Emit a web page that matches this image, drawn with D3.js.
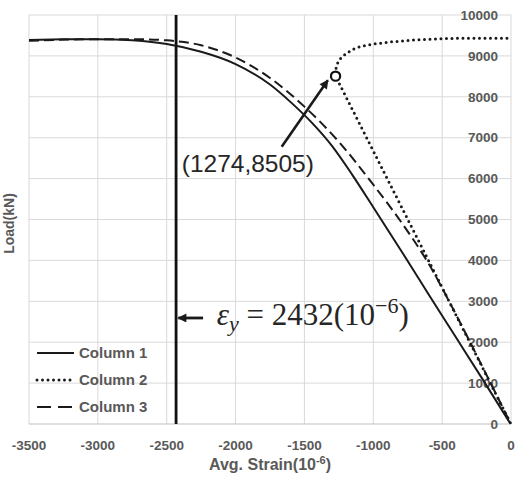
<!DOCTYPE html>
<html>
<head>
<meta charset="utf-8">
<script src="https://cdn.jsdelivr.net/npm/d3@7"></script>
<style>
  body { margin: 0; background: #fff; }
  text { font-family: "Liberation Sans", Arial, sans-serif; }
</style>
</head>
<body>
<script>
// tick values
var strainTicks = [-3500, -3000, -2500, -2000, -1500, -1000, -500, 0];
var loadTicks = [0, 1000, 2000, 3000, 4000, 5000, 6000, 7000, 8000, 9000, 10000];

// Column 1 (solid)
var col1Strain = [-3500, -3250, -3000, -2750, -2500, -2250, -2000, -1750, -1600, -1450, -1300, -1150, -1000, -800, -600, -400, -200, -10];
var col1Load   = [9390, 9405, 9410, 9380, 9290, 9100, 8800, 8300, 7870, 7380, 6800, 6080, 5300, 4250, 3180, 2120, 1060, 40];

// Column 2 (dotted) - strain gauge reverses after (1274,8505)
var col2Strain = [-5, -1274, -1270, -1255, -1230, -1193, -1150, -1097, -1000, -857, -700, -612, -500, -370, -200, 0];
var col2Load   = [30, 8505, 8700, 8860, 8970, 9063, 9160, 9225, 9290, 9347, 9390, 9406, 9420, 9430, 9432, 9435];

// Column 3 (dashed)
var col3Strain = [-3500, -3000, -2750, -2500, -2250, -2000, -1750, -1500, -1250, -1000, -800, -600, -400, -200, -10];
var col3Load   = [9370, 9410, 9410, 9380, 9260, 8960, 8460, 7760, 6900, 5850, 4950, 3930, 2680, 1350, 60];

var seriesNames = ["Column 1", "Column 2", "Column 3"];

var yieldStrain = -2432;
var markStrain = -1274, markLoad = 8505;

var margin = { top: 15, right: 6, bottom: 62, left: 29 },
    width = 517 - margin.left - margin.right,
    height = 486 - margin.top - margin.bottom;

var svg = d3.select("body")
    .append("svg")
    .attr("width", 517)
    .attr("height", 486);

var g = svg.append("g").attr("transform", "translate(" + margin.left + "," + margin.top + ")");

var x = d3.scaleLinear().domain([-3500, 0]).range([0, width]),
    y = d3.scaleLinear().domain([0, 10000]).range([height, 0]);

// grid
g.selectAll(".vgrid")
    .data(strainTicks)
    .enter().append("line")
    .attr("x1", function (d) { return x(d); })
    .attr("x2", function (d) { return x(d); })
    .attr("y1", 0).attr("y2", height)
    .attr("stroke", "#d9d9d9").attr("stroke-width", 1);

g.selectAll(".hgrid")
    .data(loadTicks)
    .enter().append("line")
    .attr("x1", 0).attr("x2", width)
    .attr("y1", function (d) { return y(d); })
    .attr("y2", function (d) { return y(d); })
    .attr("stroke", function (d) { return d === 0 ? "#bfbfbf" : "#d9d9d9"; })
    .attr("stroke-width", 1);

// tick labels
g.selectAll(".xlab")
    .data(strainTicks)
    .enter().append("text")
    .attr("x", function (d) { return x(d); })
    .attr("y", height + 21)
    .attr("dy", "0.35em")
    .attr("text-anchor", "middle")
    .attr("font-size", "13.5px")
    .attr("font-weight", "bold")
    .attr("fill", "#595959")
    .text(function (d) { return d; });

g.selectAll(".ylab")
    .data(loadTicks)
    .enter().append("text")
    .attr("x", width - 13)
    .attr("y", function (d) { return y(d); })
    .attr("dy", "0.35em")
    .attr("text-anchor", "end")
    .attr("font-size", "13.5px")
    .attr("font-weight", "bold")
    .attr("fill", "#595959")
    .text(function (d) { return d; });

// axis titles
var xt = svg.append("text")
    .attr("x", margin.left + width / 2)
    .attr("y", 470)
    .attr("text-anchor", "middle")
    .attr("font-size", "16px")
    .attr("font-weight", "bold")
    .attr("fill", "#595959");
xt.append("tspan").text("Avg. Strain(10");
xt.append("tspan").attr("font-size", "11px").attr("dy", "-6").text("-6");
xt.append("tspan").attr("dy", "6").text(")");

svg.append("text")
    .attr("transform", "translate(14," + (margin.top + height / 2 + 4) + ") rotate(-90)")
    .attr("text-anchor", "middle")
    .attr("font-size", "14px")
    .attr("font-weight", "bold")
    .attr("fill", "#595959")
    .text("Load(kN)");

// yield strain line
g.append("line")
    .attr("x1", x(yieldStrain)).attr("x2", x(yieldStrain))
    .attr("y1", 0).attr("y2", height)
    .attr("stroke", "#111").attr("stroke-width", 2.8);

// series
var line = d3.line()
    .x(function (d) { return x(d[0]); })
    .y(function (d) { return y(d[1]); });

var styles = [
    { dash: null, width: 2, cap: "butt" },
    { dash: "0,5.5", width: 3, cap: "round" },
    { dash: "10,5", width: 2, cap: "butt" }
];

var series = [d3.zip(col1Strain, col1Load), d3.zip(col2Strain, col2Load), d3.zip(col3Strain, col3Load)];

series.forEach(function (s, i) {
    g.append("path")
        .datum(s)
        .attr("fill", "none")
        .attr("stroke", "#1a1a1a")
        .attr("stroke-width", styles[i].width)
        .attr("stroke-linecap", styles[i].cap)
        .attr("stroke-dasharray", styles[i].dash)
        .attr("stroke-linejoin", "round")
        .attr("d", line.curve(i === 1 ? d3.curveLinear : d3.curveMonotoneX));
});

// arrowheads
var defs = svg.append("defs");
defs.append("marker")
    .attr("id", "arr")
    .attr("markerUnits", "userSpaceOnUse")
    .attr("viewBox", "0 0 10 10")
    .attr("refX", 9).attr("refY", 5)
    .attr("markerWidth", 11).attr("markerHeight", 9)
    .attr("orient", "auto")
    .append("path").attr("d", "M0,0 L10,5 L0,10 Z").attr("fill", "#1a1a1a");

// annotation arrow to (1274,8505)
g.append("line")
    .attr("x1", x(-1665)).attr("y1", y(6780))
    .attr("x2", x(-1330)).attr("y2", y(8405))
    .attr("stroke", "#1a1a1a").attr("stroke-width", 2.6)
    .attr("marker-end", "url(#arr)");

g.append("circle")
    .attr("cx", x(markStrain)).attr("cy", y(markLoad))
    .attr("r", 4.6)
    .attr("fill", "#fff")
    .attr("stroke", "#111").attr("stroke-width", 2.2);

g.append("text")
    .attr("x", x(-2391)).attr("y", y(6161))
    .attr("font-size", "24.5px")
    .attr("fill", "#262626")
    .text("(" + Math.abs(markStrain) + "," + markLoad + ")");

// yield annotation
g.append("line")
    .attr("x1", x(-2236)).attr("y1", y(2592))
    .attr("x2", x(-2416)).attr("y2", y(2592))
    .attr("stroke", "#1a1a1a").attr("stroke-width", 2.8)
    .attr("marker-end", "url(#arr)");

var et = g.append("text")
    .attr("x", x(-2137)).attr("y", y(2420))
    .style("font-family", "'Liberation Serif', 'DejaVu Serif', serif")
    .attr("font-size", "31px")
    .attr("fill", "#262626");
et.append("tspan").attr("font-style", "italic").text("ε");
et.append("tspan").attr("font-style", "italic").attr("font-size", "22px").attr("dy", "6").text("y");
et.append("tspan").attr("dy", "-6").text(" = " + Math.abs(yieldStrain) + "(10");
et.append("tspan").attr("font-size", "22px").attr("dy", "-12").text("−6");
et.append("tspan").attr("dy", "12").text(")");

// legend
var legend = svg.append("g").attr("transform", "translate(37,353)");
seriesNames.forEach(function (name, i) {
    var row = legend.append("g").attr("transform", "translate(0," + (i * 27) + ")");
    row.append("line")
        .attr("x1", 0).attr("x2", 37)
        .attr("y1", 0).attr("y2", 0)
        .attr("stroke", "#1a1a1a")
        .attr("stroke-width", styles[i].width)
        .attr("stroke-linecap", styles[i].cap)
        .attr("stroke-dasharray", i === 2 ? "14,7" : styles[i].dash);
    row.append("text")
        .attr("x", 42).attr("y", 0).attr("dy", "0.35em")
        .attr("font-size", "15px")
        .attr("font-weight", "bold")
        .attr("fill", "#595959")
        .text(name);
});
</script>
</body>
</html>
